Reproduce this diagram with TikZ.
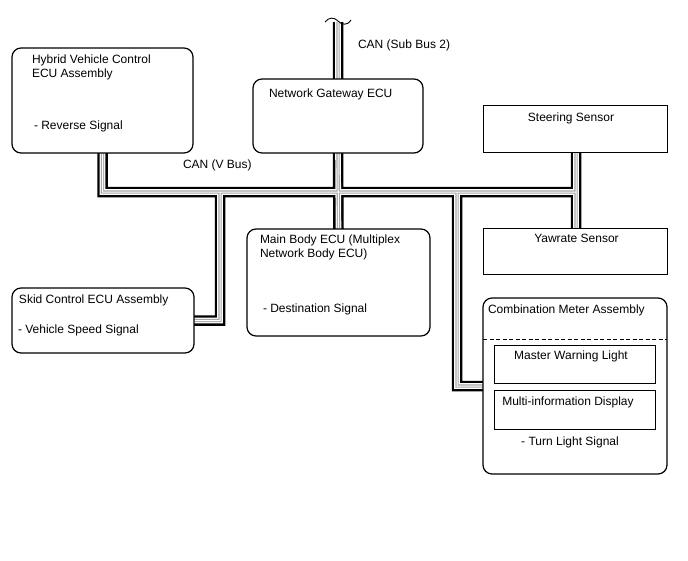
\documentclass[tikz,border=0pt]{standalone}
\usepackage{fontspec}
\setmainfont{Liberation Sans}
\usetikzlibrary{backgrounds,calc}
\begin{document}
\begin{tikzpicture}[x=1pt,y=-1pt,
  box/.style={draw=black, fill=white, line width=1.0pt, inner sep=0pt, outer sep=0pt},
  rbox/.style={box, line width=1.2pt, rounded corners=9pt},
  lbl/.style={inner sep=0pt, outer sep=0pt, anchor=base west, font=\fontsize{12}{14}\selectfont},
  clbl/.style={lbl, anchor=base},
  cable/.style={line width=10.5pt, draw=black,
    postaction={draw=white, line width=5.6pt},
    postaction={draw=gray!70, line width=3.2pt},
    postaction={draw=white, line width=1pt}}]
\useasboundingbox (0,0) rectangle (688,560);
% boxes
\node[rbox, minimum width=181, minimum height=105] (hv) at (102.5,100.5) {};
\node[rbox, minimum width=170, minimum height=74] (gw) at (338,116) {};
\node[box, minimum width=184, minimum height=47] (st) at (575,128.5) {};
\node[box, minimum width=184, minimum height=46] (yaw) at (575,251) {};
\node[rbox, minimum width=183, minimum height=107] (mb) at (338.5,282.5) {};
\node[rbox, minimum width=182, minimum height=65] (skid) at (103,320.5) {};
\node[rbox, minimum width=184, minimum height=176] (cm) at (575,386) {};
\node[box, minimum width=161, minimum height=38] (mwl) at (574.5,364) {};
\node[box, minimum width=161, minimum height=39] (mid) at (574.5,409.5) {};
\draw[line width=1pt, dash pattern=on 4pt off 2.5pt] (cm.west |- 0,339) -- (cm.east |- 0,339);
% junction coordinates
\coordinate (top) at (338,22);
\coordinate (jst) at (576,192);
\coordinate (jskid) at (220,192);
\coordinate (jcm) at (457,192);
% cables
\begin{pgfonlayer}{background}
\draw[cable] (hv.south) |- (jst) (st.south -| jst) -- (yaw.north -| jst)
  (top) -- (gw.north) (gw.south) -- (mb.north)
  (jskid) |- (skid.east) (jcm) |- (cm.west);
\end{pgfonlayer}
\draw[line width=0.9pt] (325,22) .. controls (329,17) and (334,17) .. (338,21) .. controls (342,25) and (347,26) .. (351,20);
% labels
\node[lbl] (tsub) at (358,48.5) {CAN (Sub Bus 2)};
\node[lbl] (thv1) at (32,63.5) {Hybrid Vehicle Control};
\node[lbl] (thv2) at (32,77) {ECU Assembly};
\node[lbl] (thv3) at (34,129.5) {- Reverse Signal};
\node[lbl] (tgw) at (269,97) {Network Gateway ECU};
\node[clbl] (tst) at (571,121.5) {Steering Sensor};
\node[lbl] (tvbus) at (183,168.5) {CAN (V Bus)};
\node[lbl] (tmb1) at (260,243) {Main Body ECU (Multiplex};
\node[lbl] (tmb2) at (260,257) {Network Body ECU)};
\node[lbl] (tmb3) at (263,312) {- Destination Signal};
\node[clbl] (tyaw) at (576.5,242) {Yawrate Sensor};
\node[lbl] (tsk1) at (19,303) {Skid Control ECU Assembly};
\node[lbl] (tsk2) at (18,333) {- Vehicle Speed Signal};
\node[lbl] (tcm) at (488,313) {Combination Meter Assembly};
\node[clbl] (tmwl) at (571,359) {Master Warning Light};
\node[clbl] (tmid) at (568,405) {Multi-information Display};
\node[clbl] (tturn) at (570,445) {- Turn Light Signal};
\end{tikzpicture}
\end{document}
